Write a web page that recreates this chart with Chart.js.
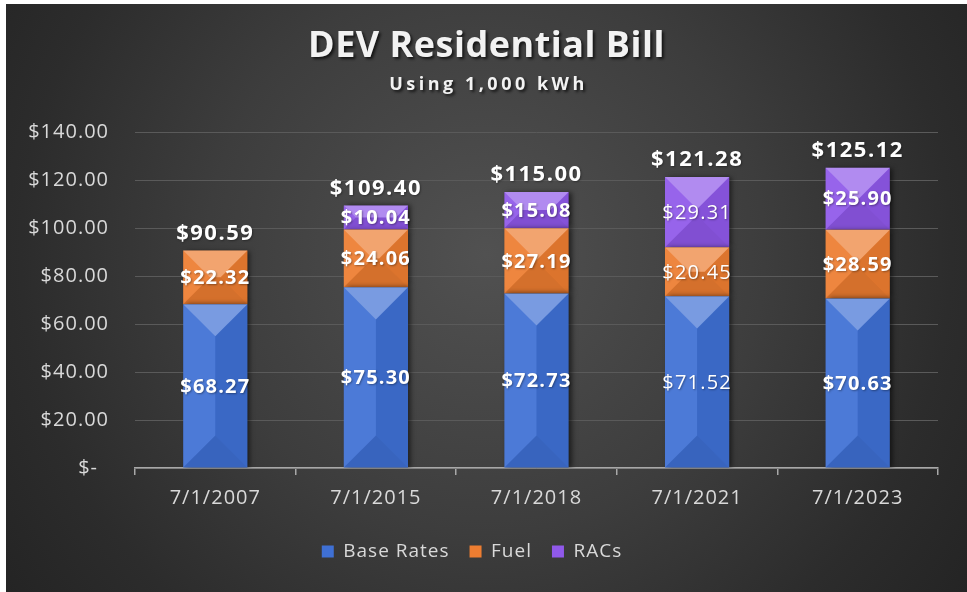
<!DOCTYPE html>
<html><head><meta charset="utf-8">
<script src="https://cdn.jsdelivr.net/npm/chart.js@4.4.0/dist/chart.umd.min.js"></script>
<style>
html,body{margin:0;padding:0;background:#fff;width:967px;height:592px;overflow:hidden}
#wrap{position:absolute;left:6px;top:4px;width:961px;height:588px}
canvas{display:block}
</style></head><body>
<div id="wrap"><canvas id="c" width="961" height="588"></canvas></div>
<script>
const TITLE = 'DEV Residential Bill';
const SUBTITLE = 'Using 1,000 kWh';
const categories = ['7/1/2007', '7/1/2015', '7/1/2018', '7/1/2021', '7/1/2023'];
const seriesNames = ['Base Rates', 'Fuel', 'RACs'];
const baseRates = [68.27, 75.30, 72.73, 71.52, 70.63];
const fuel = [22.32, 24.06, 27.19, 20.45, 28.59];
const racs = [null, 10.04, 15.08, 29.31, 25.90];
const totals = [90.59, 109.40, 115.00, 121.28, 125.12];
const yTickValues = [0, 20, 40, 60, 80, 100, 120, 140];

const COLORS = ['#3f70d4', '#ed7d31', '#9059ea'];
const FONT = "'Open Sans', 'Noto Sans', sans-serif";
const REGULAR_LABEL_COLUMN = 3;

function money(v) { return v === 0 ? '$-\u2002' : '$' + v.toFixed(2); }

const bgPlugin = {
  id: 'bg',
  beforeUpdate(chart) { chart.ctx.letterSpacing = '1px'; },
  beforeDraw(chart) {
    const ctx = chart.ctx, w = chart.width, h = chart.height;
    ctx.letterSpacing = '1px';
    ctx.save();
    const g = ctx.createRadialGradient(480, 250, 0, 480, 250, 620);
    g.addColorStop(0, '#515151');
    g.addColorStop(0.45, '#3d3d3d');
    g.addColorStop(0.75, '#2c2c2c');
    g.addColorStop(1, '#222222');
    ctx.fillStyle = g;
    ctx.fillRect(0, 0, w, h);
    ctx.textAlign = 'center';
    ctx.textBaseline = 'middle';
    ctx.shadowColor = 'rgba(0,0,0,0.7)';
    ctx.shadowBlur = 3; ctx.shadowOffsetX = 2; ctx.shadowOffsetY = 2;
    ctx.fillStyle = '#f2f2f2';
    ctx.letterSpacing = '0.5px';
    ctx.font = 'bold 36px ' + FONT;
    ctx.fillText(TITLE, w / 2, 43);
    ctx.letterSpacing = '3.5px';
    ctx.font = 'bold 18px ' + FONT;
    ctx.fillText(SUBTITLE, w / 2 + 2, 81);
    ctx.restore();
  }
};

const bevelPlugin = {
  id: 'bevel',
  beforeDatasetsDraw(chart) {
    const ctx = chart.ctx;
    ctx.save();
    ctx.shadowColor = 'rgba(0,0,0,0.55)';
    ctx.shadowBlur = 5; ctx.shadowOffsetX = 3; ctx.shadowOffsetY = 0;
  },
  afterDatasetsDraw(chart) {
    const ctx = chart.ctx;
    ctx.restore();
    ctx.save();
    chart.data.datasets.forEach((ds, di) => {
      const meta = chart.getDatasetMeta(di);
      meta.data.forEach((el, i) => {
        if (ds.data[i] == null) return;
        const p = el.getProps(['x', 'y', 'base', 'width'], true);
        const l = p.x - p.width / 2, r = p.x + p.width / 2;
        const t = Math.min(p.y, p.base), b = Math.max(p.y, p.base);
        const d = Math.min(r - l, b - t) / 2;
        const poly = (pts, fill) => {
          ctx.beginPath();
          ctx.moveTo(pts[0][0], pts[0][1]);
          for (let k = 1; k < pts.length; k++) ctx.lineTo(pts[k][0], pts[k][1]);
          ctx.closePath();
          ctx.fillStyle = fill; ctx.fill();
        };
        poly([[l, t], [r, t], [r - d, t + d], [l + d, t + d]], 'rgba(255,255,255,0.3)');
        poly([[l, b], [r, b], [r - d, b - d], [l + d, b - d]], 'rgba(0,0,0,0.1)');
        poly([[l, t], [l + d, t + d], [l + d, b - d], [l, b]], 'rgba(255,255,255,0.07)');
        poly([[r, t], [r - d, t + d], [r - d, b - d], [r, b]], 'rgba(0,0,0,0.07)');
      });
    });
    ctx.restore();
  }
};

const labelPlugin = {
  id: 'valueLabels',
  afterDatasetsDraw(chart) {
    const ctx = chart.ctx;
    ctx.save();
    ctx.textAlign = 'center';
    ctx.textBaseline = 'middle';
    ctx.fillStyle = '#ffffff';
    ctx.shadowColor = 'rgba(0,0,0,0.35)';
    ctx.shadowBlur = 2; ctx.shadowOffsetX = 1; ctx.shadowOffsetY = 1;
    ctx.letterSpacing = '1.2px';
    chart.data.datasets.forEach((ds, di) => {
      const meta = chart.getDatasetMeta(di);
      meta.data.forEach((el, i) => {
        const v = ds.data[i];
        if (v == null) return;
        const bold = i !== REGULAR_LABEL_COLUMN;
        ctx.font = (bold ? 'bold ' : '') + '20px ' + FONT;
        ctx.fillText(money(v), el.x, (el.y + el.base) / 2 + 1);
      });
    });
    const meta0 = chart.getDatasetMeta(0);
    const ys = chart.scales.y;
    ctx.letterSpacing = '1.5px';
    ctx.font = 'bold 22px ' + FONT;
    totals.forEach((v, i) => {
      ctx.fillText(money(v), meta0.data[i].x, ys.getPixelForValue(v) - 17);
    });
    ctx.restore();
  }
};

new Chart(document.getElementById('c'), {
  type: 'bar',
  data: {
    labels: categories,
    datasets: [
      { label: seriesNames[0], data: baseRates, backgroundColor: COLORS[0] },
      { label: seriesNames[1], data: fuel, backgroundColor: COLORS[1] },
      { label: seriesNames[2], data: racs, backgroundColor: COLORS[2] }
    ]
  },
  options: {
    responsive: false,
    animation: false,
    devicePixelRatio: 1,
    datasets: { bar: { categoryPercentage: 1, barPercentage: 0.4, borderWidth: 0 } },
    layout: { padding: { top: 128, right: 29, bottom: 21, left: 0 } },
    font: { family: FONT },
    plugins: {
      title: { display: false },
      tooltip: { enabled: false },
      legend: {
        position: 'bottom',
        labels: {
          color: '#d9d9d9',
          font: { size: 19, family: FONT },
          boxWidth: 12, boxHeight: 12, padding: 20
        }
      }
    },
    scales: {
      x: {
        stacked: true,
        afterFit(s) { s.height = 54; },
        grid: { display: true, drawOnChartArea: false, drawTicks: true, tickLength: 7, color: '#a8a8a8', lineWidth: 1.5, offset: true },
        border: { display: true, color: '#a8a8a8', width: 1.5 },
        ticks: { color: '#d9d9d9', font: { size: 20, family: FONT }, padding: 11, maxRotation: 0 }
      },
      y: {
        stacked: true,
        min: 0, max: 140,
        afterFit(s) { s.width = 129; },
        afterBuildTicks(s) { s.ticks = yTickValues.map(v => ({ value: v })); },
        grid: { color: '#5a5a5a', lineWidth: 1, drawTicks: false },
        border: { display: false },
        ticks: { color: '#d9d9d9', font: { size: 20, family: FONT }, padding: 26, callback: v => money(v) }
      }
    }
  },
  plugins: [bgPlugin, bevelPlugin, labelPlugin]
});
</script>
</body></html>
